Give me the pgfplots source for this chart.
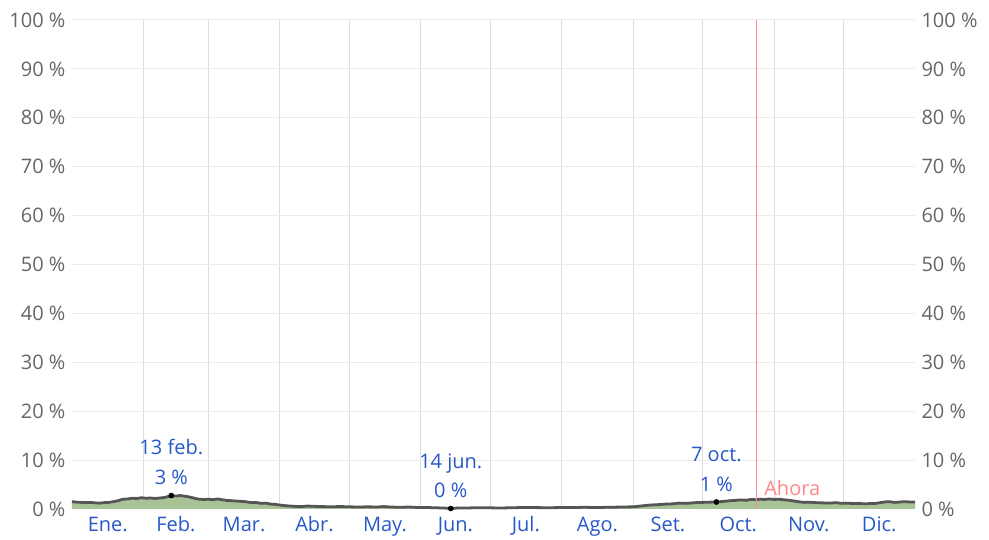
\documentclass[border=0pt]{standalone}
\usepackage{pgfplots}
\pgfplotsset{compat=1.18}
\usepackage{fontspec}
\setmainfont{Open Sans}

\definecolor{areagreen}{RGB}{168,196,150}
\definecolor{linegray}{RGB}{85,85,85}
\definecolor{labelblue}{RGB}{38,88,200}
\definecolor{ticktext}{RGB}{102,102,102}
\definecolor{nowred}{RGB}{255,135,135}
\newcommand\cf{\fontsize{20}{24}\selectfont}

% probabilidad diaria (%), dia del año 0..365
\pgfplotstableread{
d v
0 1.5
2 1.4
4 1.35
6 1.3
8 1.35
10 1.25
12 1.2
14 1.3
16 1.35
18 1.5
20 1.7
22 2.0
24 2.05
26 2.2
28 2.15
30 2.3
32 2.2
34 2.25
36 2.15
38 2.25
40 2.35
42 2.6
43 2.75
45 2.65
47 2.75
49 2.6
51 2.45
53 2.2
55 2.0
57 1.95
59 2.0
61 1.9
63 2.05
65 1.9
67 1.75
69 1.7
72 1.6
75 1.5
77 1.35
80 1.3
82 1.15
84 1.2
86 1.0
88 0.95
90 0.8
93 0.65
96 0.55
99 0.5
102 0.6
105 0.55
108 0.5
112 0.45
116 0.5
120 0.45
124 0.4
128 0.45
132 0.4
135 0.5
138 0.4
142 0.35
146 0.4
150 0.3
154 0.3
157 0.25
161 0.2
164 0.1
167 0.2
170 0.2
175 0.25
180 0.25
185 0.2
190 0.25
195 0.3
200 0.3
206 0.25
212 0.3
217 0.3
222 0.35
227 0.3
232 0.35
238 0.4
243 0.45
247 0.65
250 0.8
254 0.9
257 1.0
260 1.05
263 1.2
266 1.15
270 1.3
273 1.35
276 1.4
279 1.43
282 1.55
285 1.7
287 1.75
289 1.85
292 1.8
294 1.95
296 1.9
298 2.0
300 1.95
302 2.05
304 1.95
306 2.0
308 1.9
311 1.75
313 1.6
315 1.45
317 1.35
319 1.4
322 1.3
325 1.25
328 1.2
331 1.3
333 1.15
335 1.2
337 1.15
339 1.1
341 1.15
343 1.05
345 1.1
348 1.15
350 1.3
352 1.45
354 1.5
356 1.35
358 1.4
360 1.5
362 1.45
365 1.45
}\rain

\begin{document}
\begin{tikzpicture}
\useasboundingbox (-72pt,-31pt) rectangle (917pt,509pt);
\begin{axis}[
  scale only axis,
  width=843pt, height=489pt,
  xmin=0, xmax=365, ymin=0, ymax=100,
  axis line style={draw=none},
  major tick length=0pt, minor tick length=0pt,
  xtick={15.5,45,74.5,105,135.5,166,196.5,227.5,258,288.5,319,349.5},
  xticklabels={Ene.,Feb.,Mar.,Abr.,May.,Jun.,Jul.,Ago.,Set.,Oct.,Nov.,Dic.},
  minor xtick={31,59,90,120,151,181,212,243,273,304,334},
  xminorgrids,
  minor grid style={draw={rgb,255:red,220;green,220;blue,220}, line width=1pt},
  ytick={0,10,...,100},
  ymajorgrids,
  major grid style={draw={rgb,255:red,235;green,235;blue,235}, line width=1pt},
  yticklabel={\pgfmathprintnumber[assume math mode=true]{\tick}~\%},
  yticklabel style={font=\cf, text=ticktext, anchor=east, xshift=-3pt},
  xticklabel style={font=\cf, text=labelblue, anchor=base, yshift=-23pt},
  clip=false,
]
\addplot[fill=areagreen, draw=none] table[x=d, y=v] {\rain} \closedcycle;
\addplot[draw=linegray, line width=2.8pt, line join=round] table[x=d, y=v] {\rain};
\addplot[draw=nowred, line width=1.2pt] coordinates {(296.5,0) (296.5,100)};
\addplot[only marks, mark=*, mark size=2.6pt, black] coordinates {(43,2.75) (164,0.1) (279,1.43)};
\node[anchor=base west, text=nowred, font=\cf] at (axis cs:296.5,0) [xshift=4pt, yshift=13pt] {Ahora};
\node[anchor=base, text=labelblue, font=\cf] at (axis cs:43,2.75) [yshift=11pt] {3 \%};
\node[anchor=base, text=labelblue, font=\cf] at (axis cs:43,2.75) [yshift=41pt] {13 feb.};
\node[anchor=base, text=labelblue, font=\cf] at (axis cs:164,0.1) [yshift=11pt] {0 \%};
\node[anchor=base, text=labelblue, font=\cf] at (axis cs:164,0.1) [yshift=40pt] {14 jun.};
\node[anchor=base, text=labelblue, font=\cf] at (axis cs:279,1.43) [yshift=11pt] {1 \%};
\node[anchor=base, text=labelblue, font=\cf] at (axis cs:279,1.43) [yshift=41pt] {7 oct.};
\end{axis}
\begin{axis}[
  scale only axis,
  width=843pt, height=489pt,
  xmin=0, xmax=365, ymin=0, ymax=100,
  axis y line*=right, axis x line=none,
  axis line style={draw=none},
  major tick length=0pt,
  ytick={0,10,...,100},
  yticklabel={\pgfmathprintnumber[assume math mode=true]{\tick}~\%},
  yticklabel style={font=\cf, text=ticktext, anchor=west, xshift=3pt},
]
\addplot[draw=none] coordinates {(0,0) (365,100)};
\end{axis}
\end{tikzpicture}
\end{document}
